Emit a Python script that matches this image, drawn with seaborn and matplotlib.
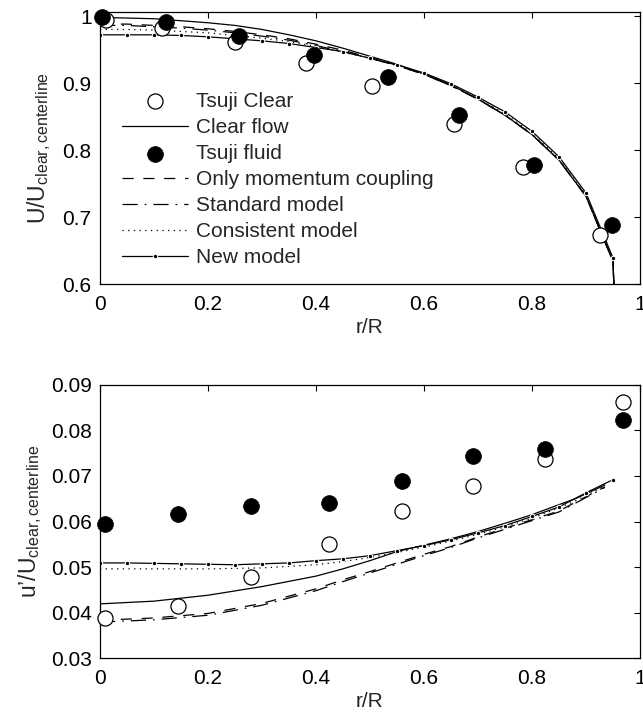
import numpy as np
import pandas as pd
import matplotlib
matplotlib.use("Agg")
import matplotlib.pyplot as plt
import seaborn as sns

# ---------------- mean axial velocity, U/U_clear,centerline ----------------
r_tsuji_clear_u = [0.011, 0.115, 0.250, 0.381, 0.503, 0.656, 0.783, 0.926]
u_tsuji_clear = [0.994, 0.982, 0.961, 0.930, 0.896, 0.839, 0.775, 0.673]
r_tsuji_fluid_u = [0.003, 0.122, 0.257, 0.396, 0.533, 0.665, 0.804, 0.948]
u_tsuji_fluid = [0.999, 0.991, 0.970, 0.942, 0.909, 0.852, 0.778, 0.688]

r_model_u = [0.00, 0.05, 0.10, 0.15, 0.20, 0.25, 0.30, 0.35, 0.40, 0.45,
             0.50, 0.55, 0.60, 0.65, 0.70, 0.75, 0.80, 0.85, 0.90, 0.95, 0.952]
u_clear_flow = [0.998, 0.997, 0.996, 0.993, 0.990, 0.986, 0.980, 0.972, 0.963, 0.952,
                0.940, 0.928, 0.914, 0.897, 0.876, 0.852, 0.823, 0.785, 0.731, 0.634, 0.59]
u_momentum = [0.988, 0.988, 0.986, 0.984, 0.981, 0.977, 0.972, 0.966, 0.958, 0.949,
              0.938, 0.927, 0.913, 0.896, 0.876, 0.852, 0.823, 0.785, 0.731, 0.634, 0.59]
u_standard = [0.986, 0.986, 0.984, 0.982, 0.979, 0.975, 0.970, 0.964, 0.956, 0.947,
              0.937, 0.926, 0.913, 0.896, 0.876, 0.852, 0.823, 0.785, 0.731, 0.634, 0.59]
u_consistent = [0.980, 0.980, 0.979, 0.977, 0.975, 0.971, 0.967, 0.962, 0.955, 0.946,
                0.937, 0.926, 0.913, 0.897, 0.877, 0.854, 0.825, 0.787, 0.733, 0.636, 0.59]
u_new = [0.972, 0.972, 0.972, 0.971, 0.969, 0.966, 0.963, 0.959, 0.953, 0.947,
         0.937, 0.927, 0.915, 0.899, 0.879, 0.857, 0.828, 0.790, 0.736, 0.639, 0.59]

# ---------------- axial fluctuation, u'/U_clear,centerline ----------------
r_tsuji_rms = [0.009, 0.145, 0.280, 0.424, 0.559, 0.690, 0.825, 0.969]
rms_tsuji_clear = [0.0389, 0.0415, 0.0477, 0.0551, 0.0622, 0.0679, 0.0738, 0.0863]
rms_tsuji_fluid = [0.0595, 0.0617, 0.0633, 0.0641, 0.0690, 0.0745, 0.0760, 0.0822]

r_model_rms = [0.00, 0.10, 0.20, 0.30, 0.40, 0.45, 0.50, 0.55, 0.60, 0.65,
               0.70, 0.75, 0.80, 0.85, 0.88, 0.935]
rms_clear_flow = [0.0419, 0.0425, 0.0438, 0.0457, 0.0480, 0.0496, 0.0514, 0.0534, 0.0548, 0.0562,
                  0.0578, 0.0596, 0.0615, 0.0637, 0.0650, 0.0680]
rms_momentum = [0.0383, 0.0388, 0.0398, 0.0420, 0.0452, 0.0472, 0.0490, 0.0509, 0.0528, 0.0545,
                0.0566, 0.0585, 0.0604, 0.0623, 0.0642, 0.0676]
rms_standard = [0.0379, 0.0384, 0.0394, 0.0416, 0.0448, 0.0468, 0.0487, 0.0506, 0.0525, 0.0543,
                0.0564, 0.0583, 0.0602, 0.0621, 0.0640, 0.0675]
rms_consistent = [0.0496, 0.0496, 0.0496, 0.0498, 0.0505, 0.0512, 0.0521, 0.0532, 0.0544, 0.0557,
                  0.0572, 0.0588, 0.0607, 0.0630, 0.0645, 0.0678]

r_new_rms = [0.00, 0.05, 0.10, 0.15, 0.20, 0.25, 0.30, 0.35, 0.40, 0.45,
             0.50, 0.55, 0.60, 0.65, 0.70, 0.75, 0.80, 0.85, 0.90, 0.95]
rms_new = [0.0509, 0.0509, 0.0508, 0.0507, 0.0506, 0.0505, 0.0507, 0.0509, 0.0514, 0.0518,
           0.0525, 0.0536, 0.0547, 0.0560, 0.0575, 0.0591, 0.0611, 0.0632, 0.0663, 0.0692]

x_ticks = [0, 0.2, 0.4, 0.6, 0.8, 1.0]
x_tick_labels = ["0", "0.2", "0.4", "0.6", "0.8", "1"]
u_ticks = [0.6, 0.7, 0.8, 0.9, 1.0]
u_tick_labels = ["0.6", "0.7", "0.8", "0.9", "1"]
rms_ticks = [0.03, 0.04, 0.05, 0.06, 0.07, 0.08, 0.09]
rms_tick_labels = ["0.03", "0.04", "0.05", "0.06", "0.07", "0.08", "0.09"]

legend_labels = ["Tsuji Clear", "Clear flow", "Tsuji fluid", "Only momentum coupling",
                 "Standard model", "Consistent model", "New model"]

# ---------------- style ----------------
sns.set_style("white")
plt.rcParams["font.family"] = ["Liberation Sans", "DejaVu Sans"]
plt.rcParams["mathtext.fontset"] = "custom"
plt.rcParams["mathtext.rm"] = "Liberation Sans"
plt.rcParams["mathtext.it"] = "Liberation Sans"
plt.rcParams["lines.scale_dashes"] = False
FS = 15
FS_YLABEL = 16.5

LW = 0.9
STY = {
    "clear": dict(linestyle="-", linewidth=LW),
    "momentum": dict(linestyle=(0, (8, 7)), linewidth=LW),
    "standard": dict(linestyle=(0, (11, 5, 1.2, 5)), linewidth=LW),
    "consistent": dict(linestyle=(0, (0.9, 3.2)), linewidth=LW),
    "new": dict(linestyle="-", linewidth=LW, marker="o", markersize=3.2),
}
OPEN = dict(s=118, facecolor="white", edgecolor="black", linewidth=0.9, clip_on=False, zorder=5)
FILL = dict(s=130, color="black", edgecolor="black", linewidth=0.5, clip_on=False, zorder=6)

fig = plt.figure(figsize=(6.43, 7.12), dpi=100)
ax1 = fig.add_axes([0.1555, 0.6011, 0.8398, 0.3820])
ax2 = fig.add_axes([0.1555, 0.0758, 0.8398, 0.3835])


def line(ax, x, y, key, label=None):
    df = pd.DataFrame({"r": x, "v": y})
    sns.lineplot(data=df, x="r", y="v", ax=ax, color="black", sort=False,
                 estimator=None, label=label, legend=False, **STY[key])


def points(ax, x, y, kind, label=None):
    df = pd.DataFrame({"r": x, "v": y})
    sns.scatterplot(data=df, x="r", y="v", ax=ax, label=label, legend=False,
                    **(OPEN if kind == "open" else FILL))


# top panel
points(ax1, r_tsuji_clear_u, u_tsuji_clear, "open", legend_labels[0])
line(ax1, r_model_u, u_clear_flow, "clear", legend_labels[1])
points(ax1, r_tsuji_fluid_u, u_tsuji_fluid, "fill", legend_labels[2])
line(ax1, r_model_u, u_momentum, "momentum", legend_labels[3])
line(ax1, r_model_u, u_standard, "standard", legend_labels[4])
line(ax1, r_model_u, u_consistent, "consistent", legend_labels[5])
line(ax1, r_model_u, u_new, "new", legend_labels[6])

# bottom panel
points(ax2, r_tsuji_rms, rms_tsuji_clear, "open")
line(ax2, r_model_rms, rms_clear_flow, "clear")
points(ax2, r_tsuji_rms, rms_tsuji_fluid, "fill")
line(ax2, r_model_rms, rms_momentum, "momentum")
line(ax2, r_model_rms, rms_standard, "standard")
line(ax2, r_model_rms, rms_consistent, "consistent")
line(ax2, r_new_rms, rms_new, "new")

for ax, yt, ytl in ((ax1, u_ticks, u_tick_labels), (ax2, rms_ticks, rms_tick_labels)):
    ax.set_xlim(0, 1)
    ax.set_xticks(x_ticks)
    ax.set_xticklabels(x_tick_labels)
    ax.set_yticks(yt)
    ax.set_yticklabels(ytl)
    ax.tick_params(direction="in", length=4, width=0.8, top=True, right=True,
                   labelsize=FS, colors="black")
    ax.tick_params(axis="x", pad=8)
    ax.tick_params(axis="y", pad=6)
    for s in ax.spines.values():
        s.set_visible(True)
        s.set_color("black")
        s.set_linewidth(0.9)
    ax.set_xlabel("r/R", fontsize=FS, labelpad=3)

ax1.set_ylim(0.6, 1.006)
ax2.set_ylim(0.03, 0.09)
ax1.set_ylabel(r"U/U$_{\mathrm{clear,centerline}}$", fontsize=FS_YLABEL, labelpad=7)
ax2.set_ylabel(r"u’/U$_{\mathrm{clear,centerline}}$", fontsize=FS_YLABEL, labelpad=5)

h, l = ax1.get_legend_handles_labels()
order = [l.index(name) for name in legend_labels]
ax1.legend([h[i] for i in order], [l[i] for i in order], loc="center left",
           bbox_to_anchor=(0.04, 0.384), frameon=False, fontsize=FS,
           handlelength=3.2, handletextpad=0.35, labelspacing=0.34,
           borderpad=0, borderaxespad=0, markerscale=1.0)

fig.savefig("out.png", dpi=100, facecolor="white")
